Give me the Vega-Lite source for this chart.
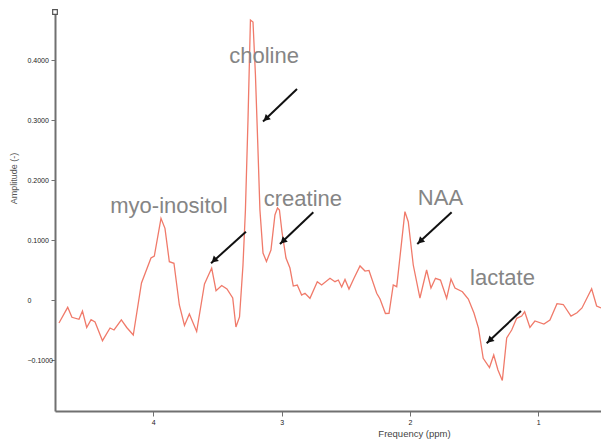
{
  "$schema": "https://vega.github.io/schema/vega-lite/v6.json",
  "width": 546,
  "height": 399,
  "autosize": "none",
  "padding": {"left": 55, "top": 12, "right": 0, "bottom": 36},
  "background": "white",
  "config": {
    "view": {"stroke": null},
    "font": "Liberation Sans"
  },
  "datasets": {
    "spectrum": [
      {"ppm": 4.735, "amp": -0.0383}, {"ppm": 4.667, "amp": -0.0122}, {"ppm": 4.634, "amp": -0.0288},
      {"ppm": 4.579, "amp": -0.0322}, {"ppm": 4.552, "amp": -0.0183}, {"ppm": 4.519, "amp": -0.0458},
      {"ppm": 4.485, "amp": -0.0328}, {"ppm": 4.454, "amp": -0.0367}, {"ppm": 4.396, "amp": -0.0678},
      {"ppm": 4.337, "amp": -0.0467}, {"ppm": 4.306, "amp": -0.05}, {"ppm": 4.249, "amp": -0.0333},
      {"ppm": 4.207, "amp": -0.0458}, {"ppm": 4.156, "amp": -0.0583}, {"ppm": 4.092, "amp": 0.0283},
      {"ppm": 4.018, "amp": 0.07}, {"ppm": 3.992, "amp": 0.0733}, {"ppm": 3.94, "amp": 0.1362},
      {"ppm": 3.909, "amp": 0.1195}, {"ppm": 3.875, "amp": 0.0638}, {"ppm": 3.839, "amp": 0.0612},
      {"ppm": 3.797, "amp": -0.0083}, {"ppm": 3.757, "amp": -0.0425}, {"ppm": 3.719, "amp": -0.0233},
      {"ppm": 3.662, "amp": -0.0525}, {"ppm": 3.601, "amp": 0.0267}, {"ppm": 3.545, "amp": 0.0533},
      {"ppm": 3.511, "amp": 0.0155}, {"ppm": 3.467, "amp": 0.0242}, {"ppm": 3.426, "amp": 0.0183},
      {"ppm": 3.381, "amp": 0.0033}, {"ppm": 3.356, "amp": -0.045}, {"ppm": 3.328, "amp": -0.0283},
      {"ppm": 3.301, "amp": 0.0583}, {"ppm": 3.282, "amp": 0.15}, {"ppm": 3.262, "amp": 0.3},
      {"ppm": 3.243, "amp": 0.4667}, {"ppm": 3.223, "amp": 0.4633}, {"ppm": 3.204, "amp": 0.375},
      {"ppm": 3.186, "amp": 0.2617}, {"ppm": 3.169, "amp": 0.15}, {"ppm": 3.145, "amp": 0.0783},
      {"ppm": 3.118, "amp": 0.0642}, {"ppm": 3.083, "amp": 0.0833}, {"ppm": 3.052, "amp": 0.1417},
      {"ppm": 3.032, "amp": 0.1533}, {"ppm": 3.017, "amp": 0.15}, {"ppm": 2.997, "amp": 0.1133},
      {"ppm": 2.966, "amp": 0.07}, {"ppm": 2.935, "amp": 0.0533}, {"ppm": 2.909, "amp": 0.0233},
      {"ppm": 2.878, "amp": 0.025}, {"ppm": 2.844, "amp": 0.0083}, {"ppm": 2.818, "amp": 0.0112},
      {"ppm": 2.779, "amp": 0.0028}, {"ppm": 2.722, "amp": 0.0305}, {"ppm": 2.688, "amp": 0.025},
      {"ppm": 2.623, "amp": 0.0362}, {"ppm": 2.584, "amp": 0.0305}, {"ppm": 2.558, "amp": 0.0333},
      {"ppm": 2.532, "amp": 0.0217}, {"ppm": 2.506, "amp": 0.0342}, {"ppm": 2.475, "amp": 0.0183},
      {"ppm": 2.436, "amp": 0.0362}, {"ppm": 2.389, "amp": 0.0567}, {"ppm": 2.35, "amp": 0.0483},
      {"ppm": 2.319, "amp": 0.0492}, {"ppm": 2.259, "amp": 0.0112}, {"ppm": 2.233, "amp": 0.0017},
      {"ppm": 2.191, "amp": -0.0225}, {"ppm": 2.163, "amp": -0.0222}, {"ppm": 2.13, "amp": 0.025},
      {"ppm": 2.103, "amp": 0.0222}, {"ppm": 2.039, "amp": 0.1472}, {"ppm": 2.013, "amp": 0.1305},
      {"ppm": 1.974, "amp": 0.0583}, {"ppm": 1.922, "amp": 0.0033}, {"ppm": 1.87, "amp": 0.05},
      {"ppm": 1.836, "amp": 0.02}, {"ppm": 1.801, "amp": 0.0362}, {"ppm": 1.762, "amp": 0.0333},
      {"ppm": 1.714, "amp": 0.0028}, {"ppm": 1.68, "amp": 0.035}, {"ppm": 1.649, "amp": 0.02},
      {"ppm": 1.591, "amp": 0.0138}, {"ppm": 1.545, "amp": 0.0017}, {"ppm": 1.501, "amp": -0.0217},
      {"ppm": 1.466, "amp": -0.0467}, {"ppm": 1.429, "amp": -0.0972}, {"ppm": 1.38, "amp": -0.1125},
      {"ppm": 1.347, "amp": -0.0917}, {"ppm": 1.314, "amp": -0.1167}, {"ppm": 1.28, "amp": -0.1342},
      {"ppm": 1.246, "amp": -0.0633}, {"ppm": 1.207, "amp": -0.05}, {"ppm": 1.168, "amp": -0.0305},
      {"ppm": 1.129, "amp": -0.0267}, {"ppm": 1.106, "amp": -0.0195}, {"ppm": 1.065, "amp": -0.0458},
      {"ppm": 1.026, "amp": -0.035}, {"ppm": 0.956, "amp": -0.04}, {"ppm": 0.909, "amp": -0.0333},
      {"ppm": 0.854, "amp": -0.0062}, {"ppm": 0.805, "amp": -0.0075}, {"ppm": 0.745, "amp": -0.0267},
      {"ppm": 0.698, "amp": -0.0212}, {"ppm": 0.659, "amp": -0.0133}, {"ppm": 0.584, "amp": 0.0187},
      {"ppm": 0.545, "amp": -0.01}, {"ppm": 0.511, "amp": -0.0133}
    ],
    "arrows": [
      {"label": "choline", "x1": 2.88, "y1": 0.3517, "x2": 3.145, "y2": 0.2975, "hx": 3.122, "hy": 0.302},
      {"label": "myo-inositol", "x1": 3.278, "y1": 0.1138, "x2": 3.55, "y2": 0.0612, "hx": 3.527, "hy": 0.066},
      {"label": "creatine", "x1": 2.753, "y1": 0.1462, "x2": 3.013, "y2": 0.0933, "hx": 2.99, "hy": 0.098},
      {"label": "NAA", "x1": 1.675, "y1": 0.1462, "x2": 1.943, "y2": 0.0933, "hx": 1.92, "hy": 0.098},
      {"label": "lactate", "x1": 1.135, "y1": -0.0183, "x2": 1.402, "y2": -0.0722, "hx": 1.379, "hy": -0.0675}
    ],
    "labels": [
      {"text": "choline", "ppm": 3.137, "amp": 0.3945},
      {"text": "myo-inositol", "ppm": 3.878, "amp": 0.1455},
      {"text": "creatine", "ppm": 2.834, "amp": 0.1567},
      {"text": "NAA", "ppm": 1.762, "amp": 0.1583},
      {"text": "lactate", "ppm": 1.279, "amp": 0.025}
    ],
    "handle": [
      {"ppm": 4.766, "amp": 0.48}
    ]
  },
  "encoding": {
    "x": {
      "field": "ppm", "type": "quantitative",
      "scale": {"domain": [0.511, 4.766], "reverse": true, "nice": false, "zero": false},
      "axis": {
        "title": "Frequency (ppm)",
        "values": [1, 2, 3, 4],
        "format": "d",
        "grid": false,
        "domainColor": "#707070",
        "domainWidth": 2,
        "tickColor": "#707070",
        "tickSize": 5,
        "tickWidth": 1,
        "labelFontSize": 7,
        "labelColor": "#222222",
        "labelPadding": 2,
        "titleFontSize": 9.5,
        "titleFontWeight": "normal",
        "titleColor": "#444444",
        "titleX": 359,
        "titleY": 22,
        "titleAlign": "center",
        "titleBaseline": "middle"
      }
    },
    "y": {
      "field": "amp", "type": "quantitative",
      "scale": {"domain": [-0.185, 0.48], "nice": false, "zero": false},
      "axis": {
        "title": "Amplitude (-)",
        "values": [-0.1, 0, 0.1, 0.2, 0.3, 0.4],
        "labelExpr": "datum.value == 0 ? '0' : format(datum.value, '.4f')",
        "grid": false,
        "domainColor": "#707070",
        "domainWidth": 2,
        "tickColor": "#707070",
        "tickSize": 4,
        "tickWidth": 1,
        "labelFontSize": 7,
        "labelColor": "#222222",
        "labelAlign": "left",
        "labelPadding": 24,
        "titleFontSize": 9,
        "titleFontWeight": "normal",
        "titleColor": "#555555",
        "titleAngle": -90,
        "titleX": -42,
        "titleY": 166,
        "titleAlign": "center",
        "titleBaseline": "middle"
      }
    }
  },
  "layer": [
    {
      "data": {"name": "spectrum"},
      "mark": {"type": "line", "color": "#f07a6a", "strokeWidth": 1.3, "clip": true},
      "encoding": {}
    },
    {
      "data": {"name": "arrows"},
      "mark": {"type": "rule", "color": "#111111", "strokeWidth": 2},
      "encoding": {
        "x": {"field": "x1", "type": "quantitative"},
        "y": {"field": "y1", "type": "quantitative"},
        "x2": {"field": "x2"},
        "y2": {"field": "y2"}
      }
    },
    {
      "data": {"name": "arrows"},
      "mark": {"type": "point", "shape": "triangle-up", "filled": true, "color": "#111111", "opacity": 1, "size": 55, "angle": 227},
      "encoding": {
        "x": {"field": "hx", "type": "quantitative"},
        "y": {"field": "hy", "type": "quantitative"}
      }
    },
    {
      "data": {"name": "labels"},
      "mark": {"type": "text", "fontSize": 22, "color": "#858585", "align": "center", "baseline": "alphabetic", "font": "Liberation Sans"},
      "encoding": {
        "text": {"field": "text"}
      }
    },
    {
      "data": {"name": "handle"},
      "mark": {"type": "point", "shape": "square", "filled": true, "color": "#ffffff", "stroke": "#555555", "strokeWidth": 1.2, "opacity": 1, "size": 22},
      "encoding": {}
    }
  ]
}
